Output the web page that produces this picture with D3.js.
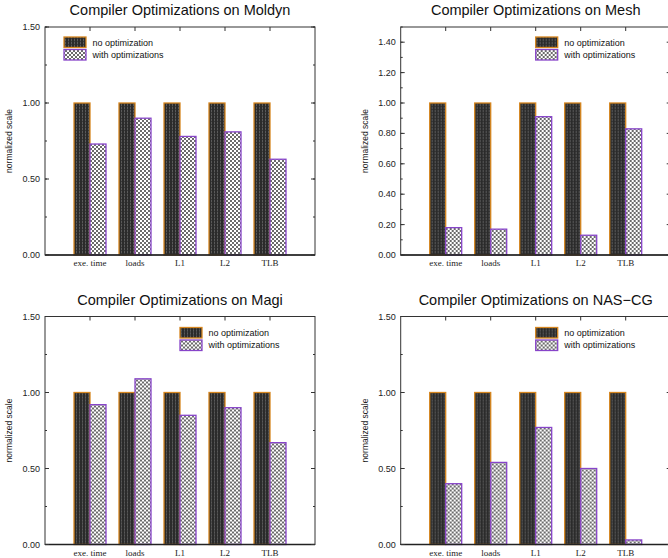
<!DOCTYPE html>
<html lang="en">
<head>
<meta charset="UTF-8">
<title>Compiler Optimizations</title>
<script src="https://cdn.jsdelivr.net/npm/d3@7"></script>
<style>
    body { margin: 0; background: #fff; }
    .title { font-family: "Liberation Sans", Arial, sans-serif; font-size: 14.5px; fill: #111; }
    .tick-label { font-family: "Liberation Sans", Arial, sans-serif; font-size: 9px; fill: #222; }
    .cat-label { font-family: "Liberation Serif", "Times New Roman", serif; font-size: 9px; fill: #222; }
    .legend-text { font-family: "Liberation Sans", Arial, sans-serif; font-size: 9px; fill: #111; }
    .ylab { font-family: "Liberation Sans", Arial, sans-serif; font-size: 8.5px; fill: #222; }
</style>
</head>
<body>
<svg width="668" height="558"></svg>
<script>
    // data
    const categories = ["exe. time", "loads", "L1", "L2", "TLB"];
    const seriesNames = ["no optimization", "with optimizations"];
    const noOpt = [1, 1, 1, 1, 1];
    const moldynOpt = [0.73, 0.90, 0.78, 0.81, 0.63];
    const meshOpt = [0.18, 0.17, 0.91, 0.13, 0.83];
    const magiOpt = [0.92, 1.09, 0.85, 0.90, 0.67];
    const nascgOpt = [0.40, 0.54, 0.77, 0.50, 0.03];
    const ticksHalf = [0, 0.5, 1.0, 1.5];
    const ticksFifth = [0, 0.2, 0.4, 0.6, 0.8, 1.0, 1.2, 1.4];

    const panels = [
        { name: "Moldyn", opt: moldynOpt, left: 45, top: 27, ticks: ticksHalf, minor: 0.25, legend: [64, 37] },
        { name: "Mesh", opt: meshOpt, left: 400.7, top: 27, ticks: ticksFifth, minor: 0.1, legend: [535.7, 37] },
        { name: "Magi", opt: magiOpt, left: 45, top: 316.5, ticks: ticksHalf, minor: 0.25, legend: [180, 327.5] },
        { name: "NAS\u2212CG", opt: nascgOpt, left: 400.7, top: 316.5, ticks: ticksHalf, minor: 0.25, legend: [535.7, 327.5] }
    ];

    const W = 270, H = 228, barW = 16;
    const orange = "#d6861f", purple = "#8744c9";
    const svg = d3.select("svg");

    // patterns
    const defs = svg.append("defs");
    const dark = defs.append("pattern").attr("id", "dark")
        .attr("patternUnits", "userSpaceOnUse").attr("width", 3).attr("height", 3);
    dark.append("rect").attr("width", 3).attr("height", 3).attr("fill", "#2b2b2b");
    dark.append("rect").attr("x", 1).attr("width", 1).attr("height", 3).attr("fill", "#5a5a5a");
    dark.append("rect").attr("x", 1).attr("y", 1).attr("width", 1).attr("height", 1).attr("fill", "#3a3a3a");

    const hatch = defs.append("pattern").attr("id", "hatch")
        .attr("patternUnits", "userSpaceOnUse").attr("width", 4).attr("height", 4);
    hatch.append("rect").attr("width", 4).attr("height", 4).attr("fill", "#fff");
    hatch.append("path").attr("d", "M0,0L4,4M4,0L0,4").attr("stroke", "#1a1a1a").attr("stroke-width", 0.65);

    panels.forEach(function (p) {
        const g = svg.append("g").attr("transform", "translate(" + p.left + "," + p.top + ")");
        const x = d3.scaleLinear().domain([0, 6]).range([0, W]);
        const y = d3.scaleLinear().domain([0, 1.5]).range([H, 0]);

        // title
        g.append("text").attr("class", "title")
            .attr("x", W / 2).attr("y", -12).attr("text-anchor", "middle")
            .text("Compiler Optimizations on " + p.name);

        // y label
        g.append("text").attr("class", "ylab")
            .attr("transform", "translate(-33," + (H / 2) + ") rotate(-90)")
            .attr("text-anchor", "middle")
            .text("normalized scale");

        // bars
        const idx = d3.range(categories.length);
        g.selectAll(".b0").data(idx).enter().append("rect")
            .attr("x", i => x(i + 1) - barW).attr("y", i => y(noOpt[i]))
            .attr("width", barW).attr("height", i => y(0) - y(noOpt[i]))
            .attr("fill", "url(#dark)").attr("stroke", orange).attr("stroke-width", 1.3);
        g.selectAll(".b1").data(idx).enter().append("rect")
            .attr("x", i => x(i + 1)).attr("y", i => y(p.opt[i]))
            .attr("width", barW).attr("height", i => y(0) - y(p.opt[i]))
            .attr("fill", "url(#hatch)").attr("stroke", purple).attr("stroke-width", 1.3);

        // frame
        g.append("rect").attr("width", W).attr("height", H)
            .attr("fill", "none").attr("stroke", "#333").attr("stroke-width", 1);
        g.append("line").attr("x1", 0).attr("x2", W).attr("y1", H).attr("y2", H)
            .attr("stroke", "#222").attr("stroke-width", 1.6);

        // y ticks, left and right
        const minorTicks = d3.range(0, 1.5 + 1e-9, p.minor);
        minorTicks.forEach(function (v) {
            g.append("line").attr("x1", 0).attr("x2", 2).attr("y1", y(v)).attr("y2", y(v)).attr("stroke", "#333");
            g.append("line").attr("x1", W).attr("x2", W - 2).attr("y1", y(v)).attr("y2", y(v)).attr("stroke", "#333");
        });
        p.ticks.forEach(function (v) {
            g.append("line").attr("x1", 0).attr("x2", 4).attr("y1", y(v)).attr("y2", y(v)).attr("stroke", "#333");
            g.append("line").attr("x1", W).attr("x2", W - 4).attr("y1", y(v)).attr("y2", y(v)).attr("stroke", "#333");
            g.append("text").attr("class", "tick-label")
                .attr("x", -5).attr("y", y(v) + 3).attr("text-anchor", "end")
                .text(d3.format(".2f")(v));
        });

        // x ticks on top and category labels
        idx.forEach(function (i) {
            g.append("line").attr("x1", x(i + 1)).attr("x2", x(i + 1)).attr("y1", 0).attr("y2", 4).attr("stroke", "#333");
            g.append("text").attr("class", "cat-label")
                .attr("x", x(i + 1)).attr("y", H + 11).attr("text-anchor", "middle")
                .text(categories[i]);
        });

        // legend
        const lg = svg.append("g").attr("transform", "translate(" + p.legend[0] + "," + p.legend[1] + ")");
        lg.append("rect").attr("width", 22).attr("height", 10.5)
            .attr("fill", "url(#dark)").attr("stroke", orange).attr("stroke-width", 1.3);
        lg.append("rect").attr("y", 12.5).attr("width", 22).attr("height", 10.5)
            .attr("fill", "url(#hatch)").attr("stroke", purple).attr("stroke-width", 1.3);
        lg.append("text").attr("class", "legend-text").attr("x", 28.5).attr("y", 8.5).text(seriesNames[0]);
        lg.append("text").attr("class", "legend-text").attr("x", 28.5).attr("y", 20.5).text(seriesNames[1]);
    });
</script>
</body>
</html>
